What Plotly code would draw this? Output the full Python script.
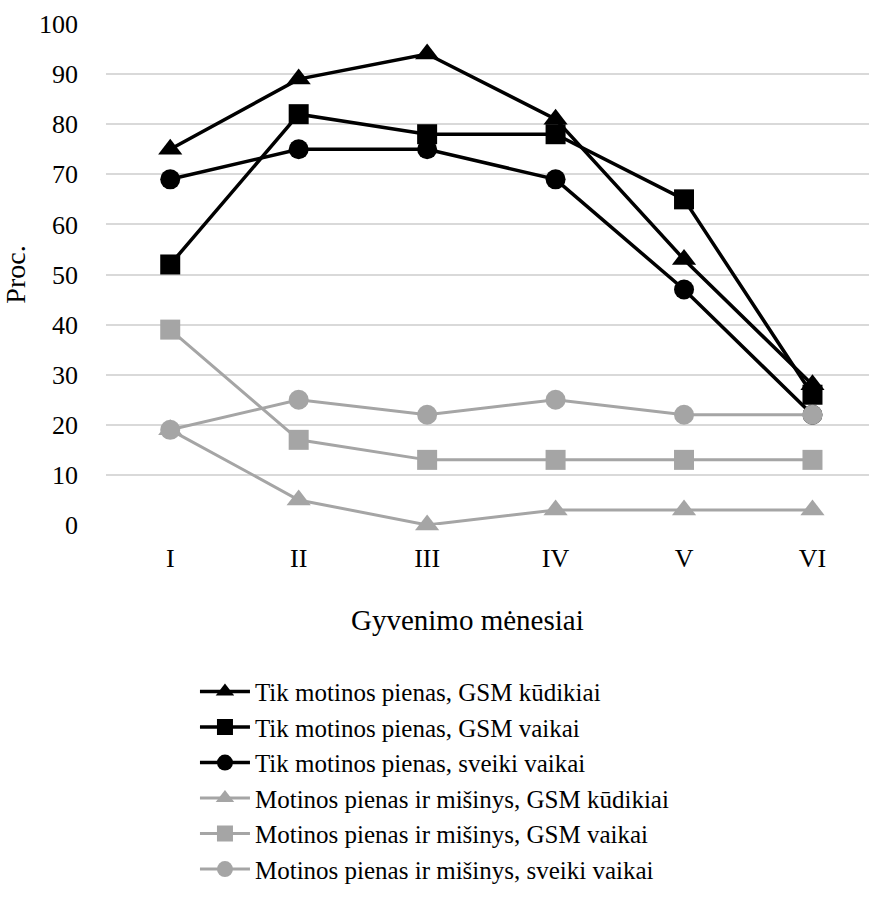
import plotly.graph_objects as go

months = ["I", "II", "III", "IV", "V", "VI"]
series_names = [
    "Tik motinos pienas, GSM kūdikiai",
    "Tik motinos pienas, GSM vaikai",
    "Tik motinos pienas, sveiki vaikai",
    "Motinos pienas ir mišinys, GSM kūdikiai",
    "Motinos pienas ir mišinys, GSM vaikai",
    "Motinos pienas ir mišinys, sveiki vaikai",
]
tik_gsm_kudikiai = [75, 89, 94, 81, 53, 28]
tik_gsm_vaikai = [52, 82, 78, 78, 65, 26]
tik_sveiki = [69, 75, 75, 69, 47, 22]
mis_gsm_kudikiai = [19, 5, 0, 3, 3, 3]
mis_gsm_vaikai = [39, 17, 13, 13, 13, 13]
mis_sveiki = [19, 25, 22, 25, 22, 22]
y_ticks = [0, 10, 20, 30, 40, 50, 60, 70, 80, 90, 100]
x_title = "Gyvenimo mėnesiai"
y_title = "Proc."

values = [tik_gsm_kudikiai, tik_gsm_vaikai, tik_sveiki,
          mis_gsm_kudikiai, mis_gsm_vaikai, mis_sveiki]
colors = ["#000000"] * 3 + ["#A5A5A5"] * 3
symbols = ["triangle-up", "square", "circle"] * 2
sizes = [21, 20, 20, 21, 20, 20]

FONT = "Liberation Serif, Times New Roman, serif"

fig = go.Figure()
for name, vals, col, sym, sz in zip(series_names, values, colors, symbols, sizes):
    fig.add_trace(go.Scatter(
        x=months, y=vals, name=name, mode="lines+markers",
        line=dict(color=col, width=3.5 if col == "#000000" else 3),
        marker=dict(symbol=sym, size=sz, color=col),
        cliponaxis=False,
    ))

fig.add_annotation(
    text=x_title, xref="paper", yref="paper",
    x=0.474, y=-0.19, xanchor="center", yanchor="middle",
    showarrow=False, font=dict(family=FONT, size=29, color="#000000"),
)

fig.update_layout(
    width=869, height=905,
    margin=dict(l=106, r=0, t=24, b=380, autoexpand=False),
    plot_bgcolor="white", paper_bgcolor="white",
    font=dict(family=FONT, size=26, color="#000000"),
    showlegend=True,
    legend=dict(
        x=0.1166, y=-0.287, xanchor="left", yanchor="top",
        font=dict(family=FONT, size=25),
        itemwidth=50,
        tracegroupgap=0,
        bgcolor="rgba(0,0,0,0)",
    ),
    xaxis=dict(
        type="category", range=[-0.5, 5.44],
        showgrid=False, zeroline=False, showline=False,
        ticks="", ticklabelstandoff=15,
        tickfont=dict(size=26),
    ),
    yaxis=dict(
        range=[0, 100], tickvals=y_ticks,
        showgrid=True, gridcolor="#D9D9D9", gridwidth=1.5,
        zeroline=False, showline=False, ticks="",
        ticklabelstandoff=27,
        title=dict(text=y_title, standoff=8, font=dict(size=28)),
        tickfont=dict(size=26),
    ),
)

fig.write_html("out.html")
